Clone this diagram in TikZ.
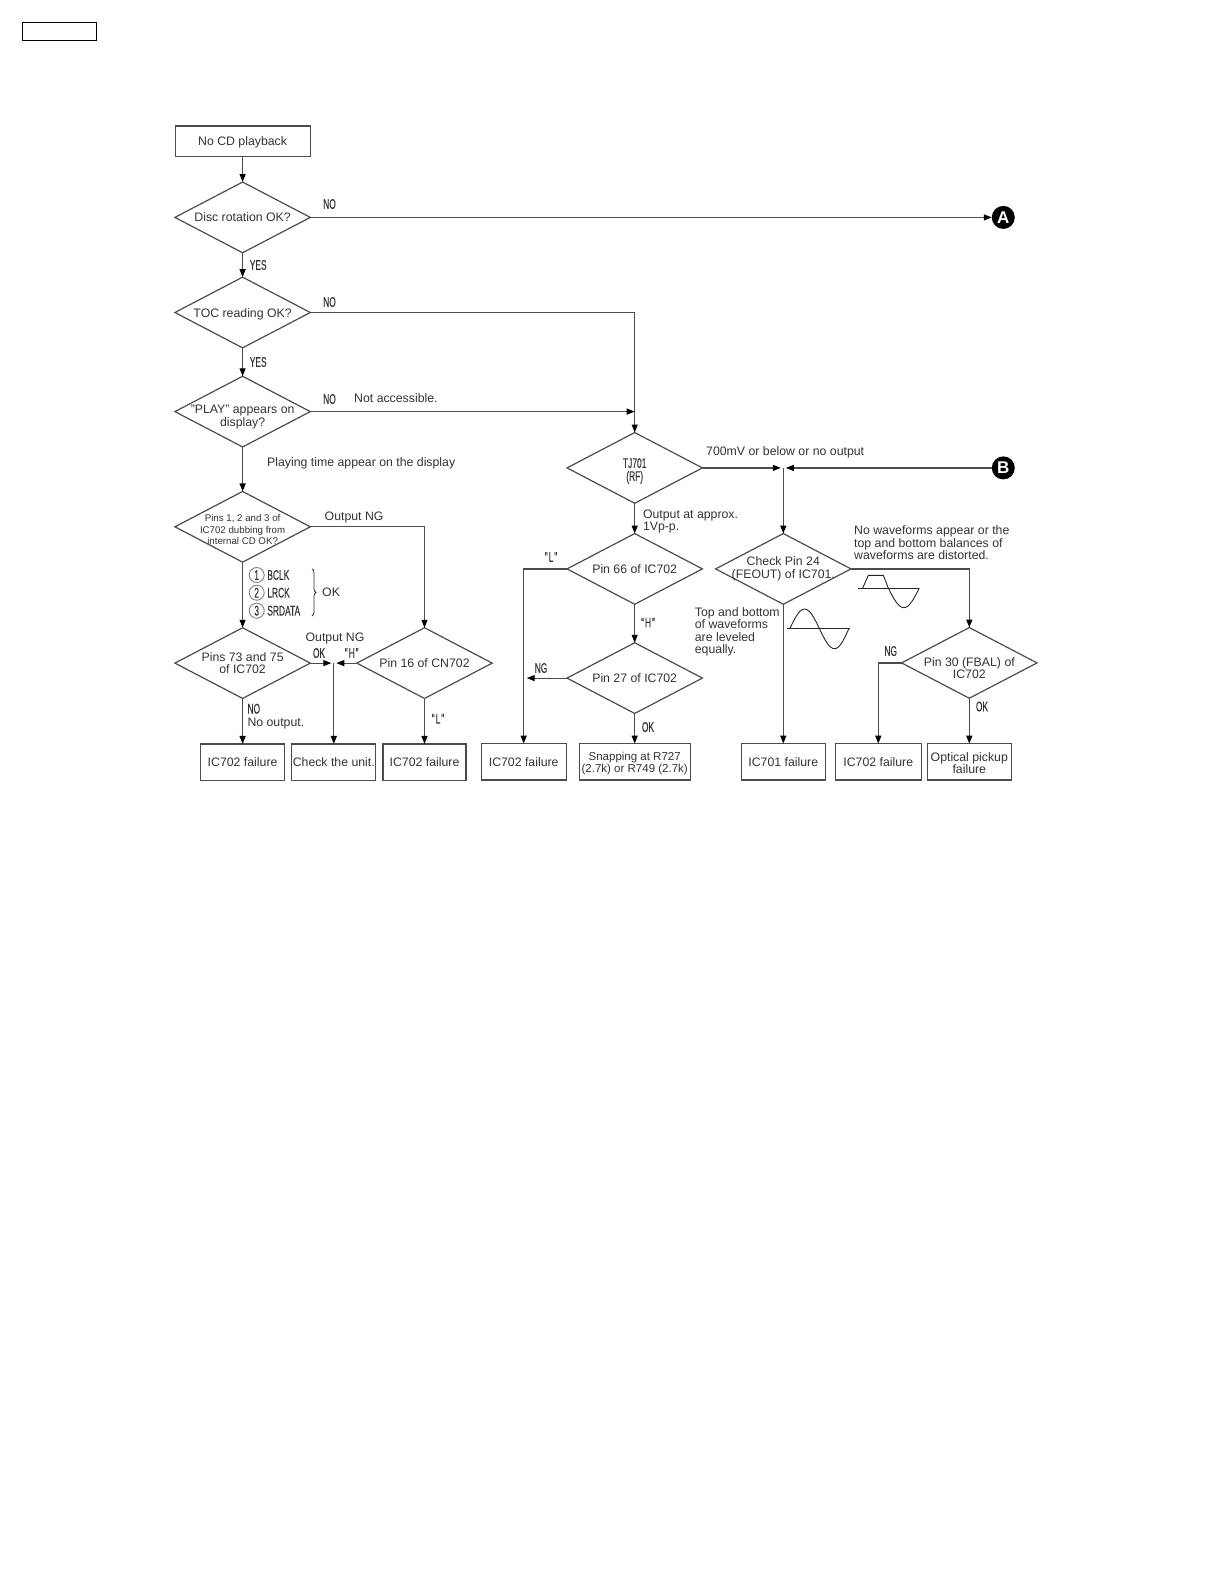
\documentclass[tikz,border=0pt]{standalone}
\usepackage{fontspec}
\setmainfont{Liberation Sans}
\newfontfamily\condfont[FakeStretch=0.6,FakeBold=0.15]{Liberation Sans}
\usetikzlibrary{arrows.meta}
\usetikzlibrary{positioning}
\usetikzlibrary{shapes.geometric}
\usetikzlibrary{decorations.pathreplacing}

\definecolor{inkline}{gray}{0.3}
\definecolor{inktext}{gray}{0.2}
\newcommand{\lowerline}[1]{\rule{0pt}{#1pt}}
\tikzset{
    every node/.append style={text=inktext,font=\fontsize{12.3}{12.4}\selectfont,align=center},
    dia/.style={diamond,draw=inkline,line width=1.2pt,outer sep=0pt,aspect=1.915,inner xsep=-24pt,inner ysep=-4pt,
                minimum width=135.4pt,minimum height=70.7pt},
    box/.style={rectangle,draw=inkline,line width=1.2pt,outer sep=0pt,inner sep=0pt,minimum height=36.4pt},
    diaone/.style={dia,execute at begin node={\rule[-2.7pt]{0pt}{14.5pt}}},
    boxone/.style={box,execute at begin node={\rule[-2.7pt]{0pt}{14.3pt}}},
    lbl/.style={inner sep=0pt,align=left},
    tag/.style={inner sep=0pt,font=\condfont\fontsize{14}{14}\selectfont},
    num/.style={circle,draw=black!50,line width=0.9pt,inner sep=0pt,minimum size=15pt,
                font=\condfont\fontsize{14}{14}\selectfont},
    conn/.style={draw=inkline,line width=1.2pt,-{Stealth[black,inset=0pt,length=8pt,width=6pt]}},
    blob/.style={circle,fill=black,outer sep=0pt,inner sep=0pt,minimum size=23pt,text=white,font=\bfseries\fontsize{17}{17}\selectfont},
    wave/.style={draw=black!85,line width=0.9pt},
}

\begin{document}
\begin{tikzpicture}[x=1pt,y=-1pt]
\useasboundingbox (0,0) rectangle (1224,1584);

\node[draw=black,line width=1pt,inner sep=0pt,outer sep=0pt,minimum width=74.4pt,minimum height=18.2pt] (pagetag) at (59.5,31.4) {};

% left column
\node[boxone,minimum width=135pt,minimum height=30.5pt] (start) at (242.6,141.3) {No CD playback};
\node[diaone,below=25.5pt of start]  (disc)  {Disc rotation OK?};
\node[diaone,below=24.4pt of disc]   (toc)   {TOC reading OK?};
\node[dia,below=28.4pt of toc]       (play)  {\lowerline{19}"PLAY" appears on\\display?};
\node[dia,below=44.5pt of play,font=\fontsize{9.7}{11.5}\selectfont] (pinsA) {\lowerline{13}Pins 1, 2 and 3 of\\IC702 dubbing from\\internal CD OK?};
\node[dia,below=65.6pt of pinsA]     (pinsB) {Pins 73 and 75\\of IC702};
\node[diaone,right=46.5pt of pinsB]  (cnpin) {Pin 16 of CN702};
\node[boxone,below=45.5pt of pinsB,minimum width=84pt] (failA)  {IC702 failure};
\node[boxone,right=7.2pt of failA,minimum width=84pt]  (unit)   {Check the unit.};
\node[boxone,below=45.5pt of cnpin,minimum width=83pt] (failB)  {IC702 failure};

% middle column
\node[dia,font=\condfont\fontsize{14}{13}\selectfont] (tj) at (634.7,467.9) {\lowerline{16}TJ701\\(RF)};
\node[diaone,below=30.3pt of tj]     (pinC)  {Pin 66 of IC702};
\node[diaone,below=38.5pt of pinC]   (pinD)  {Pin 27 of IC702};
\node[box,below=30.2pt of pinD,minimum width=111pt,font=\fontsize{11.5}{12}\selectfont] (snap) {\lowerline{11}Snapping at R727\\(2.7k) or R749 (2.7k)};
\node[boxone,left=13pt of snap,minimum width=85pt]     (failC) {IC702 failure};

% right column
\node[dia,right=13.2pt of pinC]   (feout) {Check Pin 24\\(FEOUT) of IC701.};
\node[boxone,below=139.4pt of feout,minimum width=84pt] (failD) {IC701 failure};
\node[boxone,right=10pt of failD,minimum width=86pt]    (failE) {IC702 failure};
\node[box,right=6pt of failE,minimum width=84pt]        (optic) {\lowerline{11}Optical pickup\\failure};
\node[dia,above=45.4pt of optic]  (fbal)  {\lowerline{19}Pin 30 (FBAL) of\\IC702};
\node[blob,right=681.5pt of disc] (markA) {A};
\node[blob,right=289.4pt of tj]   (markB) {B};

\coordinate (joinL) at (unit |- pinsB);
\coordinate (joinR) at (feout |- tj);
\coordinate (joinP) at (tj |- play);
\coordinate (joinN) at (failC |- pinD);

\begin{scope}[every path/.append style={conn}]
    \path (start) -- (disc);
    \path (disc)  -- (toc);
    \path (toc)   -- (play);
    \path (play)  -- (pinsA);
    \path (pinsA) -- (pinsB);
    \path (pinsB) -- (failA);
    \path (cnpin) -- (failB);
    \path (disc.east)  -- (markA.west);
    \path (toc.east)   -| (tj.north);
    \path (play.east)  -- (joinP);
    \path (pinsA.east) -| (cnpin.north);
    \path[shorten >=2.5pt] (pinsB.east) -- (joinL);
    \path[shorten >=2.5pt] (cnpin.west) -- (joinL);
    \path (joinL) -- (unit);
    \path (tj)   -- (pinC);
    \path (pinC) -- (pinD);
    \path (pinD) -- (snap);
    \path (pinC.west) -| (failC.north);
    \path[shorten >=3pt] (pinD.west) -- (joinN);
    \path[shorten >=2.5pt] (tj.east) -- (joinR);
    \path[shorten >=2.5pt] (markB.west) -- (joinR);
    \path (joinR) -- (feout.north);
    \path (feout.south) -- (failD.north);
    \path (feout.east) -| (fbal.north);
    \path (fbal.west) -| (failE.north);
    \path (fbal.south) -- (optic.north);
\end{scope}

% labels
\node[tag,anchor=west] (noA)  at (323,204)   {NO};
\node[tag,anchor=west] (yesA) at (249.6,265) {YES};
\node[tag,anchor=west] (noB)  at (323,302)   {NO};
\node[tag,anchor=west] (yesB) at (249.6,362) {YES};
\node[tag,anchor=west] (noC)  at (323,399)   {NO};
\node[lbl,anchor=west] (noacc) at (354,398)  {Not accessible.};
\node[lbl,anchor=west] (ptime) at (267,463)  {Playing time appear on the display};
\node[lbl,anchor=west] (outA)  at (324.5,517) {Output NG};
\node[num] (numA) at (256.7,575)   {1};
\node[num] (numB) at (256.7,592.7) {2};
\node[num] (numC) at (256.7,610.7) {3};
\node[tag,anchor=west,right=2.5pt of numA] (bclk)  {BCLK};
\node[tag,anchor=west,right=2.5pt of numB] (lrck)  {LRCK};
\node[tag,anchor=west,right=2.5pt of numC] (srdat) {SRDATA};
\draw[decorate,decoration={brace,amplitude=4pt},draw=black!80,line width=0.8pt] (312,569) -- (312,616);
\node[lbl,anchor=west] (okA)  at (322,592.7) {OK};
\node[lbl] (outB) at (335,638.5) {Output NG};
\node[tag] (okB)  at (319,653)   {OK};
\node[tag] (hiA)  at (351.7,653) {“\kern1pt H\kern1pt”};
\node[tag,anchor=west] (noD) at (247.3,708.7) {NO};
\node[lbl,anchor=west] (noout) at (247.3,723.5) {No output.};
\node[tag] (loA) at (438,718.7) {“\kern1pt L\kern1pt”};
\node[tag] (loB) at (551,557)   {“\kern1pt L\kern1pt”};
\node[tag] (hiB) at (648,622.6) {“\kern1pt H\kern1pt”};
\node[tag] (ngA) at (541,668)   {NG};
\node[tag] (okC) at (648,727)   {OK};
\node[lbl,anchor=west] (approx) at (642.8,521.5) {Output at approx.\\1Vp-p.};
\node[lbl,anchor=west] (below)  at (706,452)     {700mV or below or no output};
\node[lbl,anchor=west] (nowave) at (854,542.7)   {No waveforms appear or the\\top and bottom balances of\\waveforms are distorted.};
\node[lbl,anchor=west] (level)  at (694.7,632)   {Top and bottom\\of waveforms\\are leveled\\equally.};
\node[tag] (ngB) at (890.7,651) {NG};
\node[tag] (okD) at (982,706.5) {OK};

% waveforms
\draw[wave] (858,588) -- (919.3,588);
\draw[wave] (862.7,588) -- (868.3,575.3) -- (883.3,575.3) -- (888.3,588) sin (903.8,607.7) cos (919.3,588);
\draw[wave] (787.3,628.3) -- (850,628.3);
\draw[wave] (790,628.3) sin (804.5,609) cos (819.3,628.3) sin (834.5,648.7) cos (849,628.3);
\end{tikzpicture}
\end{document}
